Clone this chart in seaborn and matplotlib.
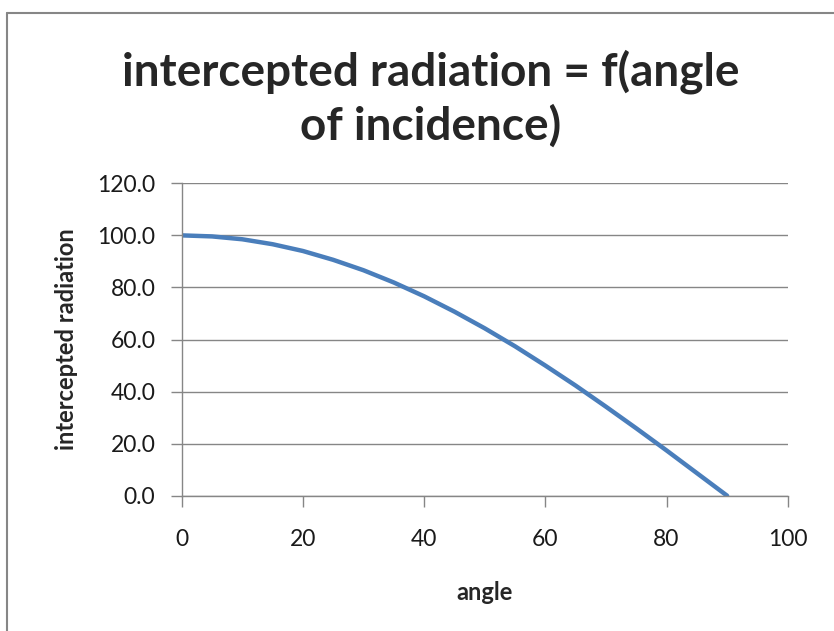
import matplotlib
matplotlib.use('Agg')
import matplotlib.pyplot as plt
import seaborn as sns
import pandas as pd

# values
angle = [0, 5, 10, 15, 20, 25, 30, 35, 40, 45, 50, 55, 60, 65, 70, 75, 80, 85, 90]
radiation = [100.0, 99.6, 98.5, 96.6, 94.0, 90.6, 86.6, 81.9, 76.6, 70.7,
             64.3, 57.4, 50.0, 42.3, 34.2, 25.9, 17.4, 8.7, 0.0]
x_ticks = [0, 20, 40, 60, 80, 100]
y_ticks = [0, 20, 40, 60, 80, 100, 120]

df = pd.DataFrame({'angle': angle, 'radiation': radiation})

sns.set_style('white')
plt.rcParams['font.family'] = ['Lato', 'DejaVu Sans']

fig = plt.figure(figsize=(8.34, 6.31), dpi=100)
ax = fig.add_axes([0.2179, 0.2144, 0.7266, 0.4951])

# chart border (only top and left edges visible in the reference)
fig.add_artist(plt.Line2D([0.0084, 0.0084], [0, 0.98], color='#868686', lw=1.5, transform=fig.transFigure))
fig.add_artist(plt.Line2D([0.0084, 1.0], [0.98, 0.98], color='#868686', lw=1.5, transform=fig.transFigure))

sns.lineplot(data=df, x='angle', y='radiation', ax=ax, color='#4A7EBB', linewidth=3.2)

ax.set_xlim(0, 100)
ax.set_ylim(0, 120)
ax.set_xticks(x_ticks)
ax.set_yticks(y_ticks)
ax.set_yticklabels([f'{v:.1f}' for v in y_ticks])
ax.grid(axis='y', color='#868686', lw=1)
ax.set_axisbelow(True)
for s in ['top', 'right']:
    ax.spines[s].set_visible(False)
for s in ['left', 'bottom']:
    ax.spines[s].set_color('#868686')
    ax.spines[s].set_linewidth(1)
ax.tick_params(axis='both', direction='out', length=8, width=1, color='#868686',
               labelsize=16.5, labelcolor='#1a1a1a', bottom=True, left=True)
ax.tick_params(axis='y', pad=11)
ax.tick_params(axis='x', pad=16)

ax.set_xlabel('angle', fontsize=17, fontweight='bold', labelpad=22)
ax.set_ylabel('intercepted radiation', fontsize=17, fontweight='bold', labelpad=14)

fig.text(0.516, 0.886, 'intercepted radiation = f(angle', ha='center', va='center',
         fontsize=33, fontweight='bold')
fig.text(0.516, 0.800, 'of incidence)', ha='center', va='center',
         fontsize=33, fontweight='bold')

fig.savefig('out.png', dpi=100)
